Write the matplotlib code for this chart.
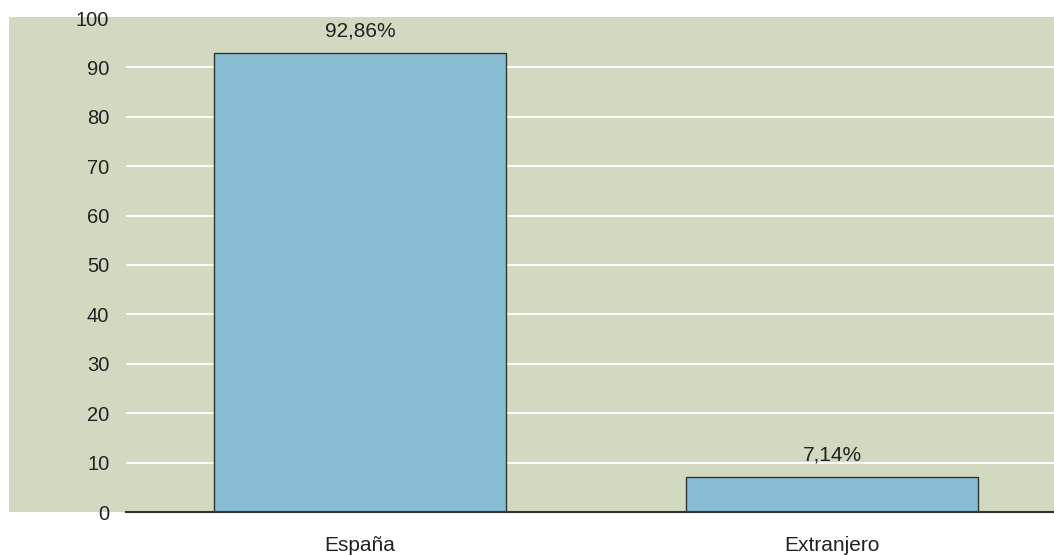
import matplotlib.pyplot as plt
from matplotlib.patches import Rectangle

# Origin of the items, in percent
categories = ["España", "Extranjero"]
values = [92.86, 7.14]
value_labels = ["92,86%", "7,14%"]
yticks = [0, 10, 20, 30, 40, 50, 60, 70, 80, 90, 100]

bg = "#d1d9c0"
bar_color = "#89bdd3"
edge = "#333333"

plt.rcParams["font.family"] = ["Liberation Sans", "DejaVu Sans"]

W, H = 1054, 555
fig = plt.figure(figsize=(W / 100, H / 100), dpi=100)

# shaded panel behind the plot and the y labels
fig.patches.append(Rectangle((9 / W, (H - 512) / H), (W - 9) / W, 495 / H,
                             transform=fig.transFigure, facecolor=bg,
                             edgecolor="none", zorder=-1))

ax = fig.add_axes([126 / W, (H - 512) / H, 928 / W, 494 / H])
ax.patch.set_alpha(0)

x = range(len(categories))
ax.bar(x, values, width=0.619, color=bar_color, edgecolor=edge,
       linewidth=1.0, zorder=3)

for xi, v, lab in zip(x, values, value_labels):
    ax.annotate(lab, (xi, v), xytext=(0, 16), textcoords="offset points",
                ha="center", va="center", fontsize=15, color="#222222",
                zorder=4)

ax.set_xlim(-0.496, 1.47)
ax.set_ylim(0, 100)
ax.set_yticks(yticks)
ax.set_yticklabels([str(t) for t in yticks])
ax.set_xticks(list(x))
ax.set_xticklabels(categories)

ax.grid(axis="y", color="white", linewidth=1.3, zorder=1)
ax.set_axisbelow(True)
# no grid line along the top edge
ax.yaxis.get_gridlines()[-1].set_visible(False)
ax.tick_params(axis="y", length=0, pad=12, labelsize=14.5, labelcolor="#222222")
ax.tick_params(axis="x", length=0, pad=17, labelsize=15, labelcolor="#222222")

for s in ["left", "right", "top"]:
    ax.spines[s].set_visible(False)
ax.spines["bottom"].set_color(edge)
ax.spines["bottom"].set_linewidth(1.5)
ax.spines["bottom"].set_zorder(5)

fig.savefig("out.png", dpi=100)
